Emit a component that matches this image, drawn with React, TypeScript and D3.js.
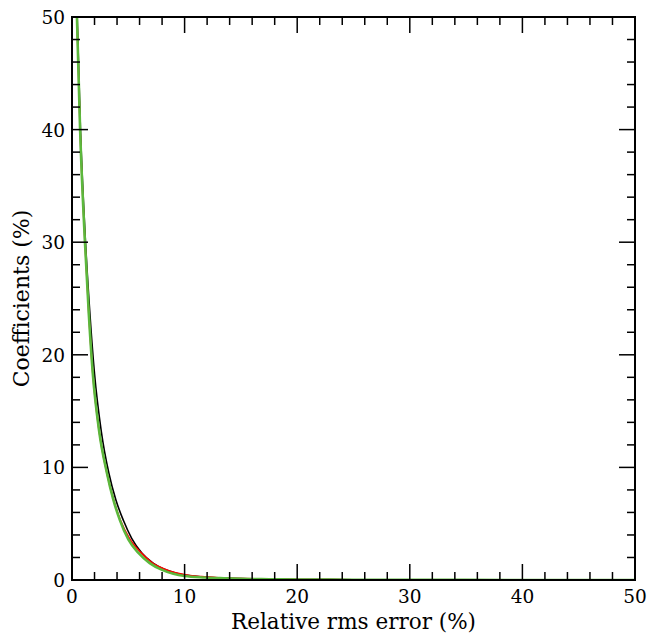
import React from "react";
import * as d3 from "d3";

const xTicksMajor = [0, 10, 20, 30, 40, 50];
const yTicksMajor = [0, 10, 20, 30, 40, 50];
const minorStep = 2;

const blackX = [0, 0.2, 0.46, 0.75, 1.2, 1.6, 2.0, 2.6, 3.27, 3.9, 4.56, 5.3, 6.2, 7.2, 8.2, 9.2, 10.2, 11.5, 13, 15, 17.5, 20, 25, 30, 40, 50];
const blackY = [72, 60, 50, 40, 30, 23.5, 18.3, 13.2, 9.5, 7.1, 5.3, 3.7, 2.4, 1.5, 0.95, 0.62, 0.42, 0.28, 0.19, 0.12, 0.08, 0.05, 0.025, 0.012, 0.004, 0];

const redX = [0, 0.2, 0.44, 0.72, 1.15, 1.5, 1.85, 2.4, 3.1, 3.7, 4.3, 5.1, 6.1, 7.1, 8.2, 9.2, 10.2, 11.5, 13, 15, 17.5, 20, 25, 30, 40, 50];
const redY = [72, 59, 50, 40, 30, 23.5, 18.3, 13.3, 9.5, 7.1, 5.3, 3.7, 2.45, 1.55, 0.98, 0.65, 0.45, 0.3, 0.2, 0.13, 0.08, 0.05, 0.025, 0.012, 0.004, 0];

const greenX = [0, 0.2, 0.44, 0.72, 1.15, 1.5, 1.85, 2.4, 3.1, 3.65, 4.26, 5.0, 5.9, 6.9, 8.0, 9.0, 10.0, 11.8, 13.5, 15, 17.5, 20, 25, 30, 40, 50];
const greenY = [72, 59, 50, 40, 30, 23.5, 18.3, 13.3, 9.5, 7.2, 5.3, 3.6, 2.4, 1.5, 0.9, 0.55, 0.35, 0.22, 0.15, 0.1, 0.07, 0.05, 0.025, 0.012, 0.004, 0];

const seriesColors = ["#000000", "#ff0000", "#5cb83c"];
const seriesWidths = [1.6, 1.6, 2.6];

export default function App() {
  const W = 648, H = 635;
  const left = 72, right = 635, top = 17, bottom = 580;
  const x = d3.scaleLinear().domain([0, 50]).range([left, right]);
  const y = d3.scaleLinear().domain([0, 50]).range([bottom, top]);
  const minors = d3.range(0, 50 + 0.001, minorStep).filter((v) => v % 10 !== 0);

  const series = [
    { xs: blackX, ys: blackY },
    { xs: redX, ys: redY },
    { xs: greenX, ys: greenY },
  ];
  const line = d3
    .line<[number, number]>()
    .x((d) => x(d[0]))
    .y((d) => y(d[1]))
    .curve(d3.curveMonotoneX);

  const font = "'DejaVu Serif', serif";
  const majorLen = 16, minorLen = 8;

  return (
    <svg width={W} height={H} style={{ position: "absolute", left: 0, top: 0 }}>
      <rect width={W} height={H} fill="#fff" />
      <defs>
        <clipPath id="plotClip">
          <rect x={left} y={top} width={right - left} height={bottom - top} />
        </clipPath>
      </defs>
      <g clipPath="url(#plotClip)">
        {series.map((s, i) => (
          <path
            key={i}
            d={line(s.xs.map((v, j) => [v, s.ys[j]] as [number, number])) || ""}
            fill="none"
            stroke={seriesColors[i]}
            strokeWidth={seriesWidths[i]}
          />
        ))}
      </g>
      <g stroke="#000" strokeWidth={1.5}>
        {xTicksMajor.map((v) => (
          <g key={"xm" + v}>
            <line x1={x(v)} x2={x(v)} y1={bottom} y2={bottom - majorLen} />
            <line x1={x(v)} x2={x(v)} y1={top} y2={top + majorLen} />
          </g>
        ))}
        {minors.map((v) => (
          <g key={"xn" + v}>
            <line x1={x(v)} x2={x(v)} y1={bottom} y2={bottom - minorLen} />
            <line x1={x(v)} x2={x(v)} y1={top} y2={top + minorLen} />
          </g>
        ))}
        {yTicksMajor.map((v) => (
          <g key={"ym" + v}>
            <line x1={left} x2={left + majorLen} y1={y(v)} y2={y(v)} />
            <line x1={right} x2={right - majorLen} y1={y(v)} y2={y(v)} />
          </g>
        ))}
        {minors.map((v) => (
          <g key={"yn" + v}>
            <line x1={left} x2={left + minorLen} y1={y(v)} y2={y(v)} />
            <line x1={right} x2={right - minorLen} y1={y(v)} y2={y(v)} />
          </g>
        ))}
      </g>
      <rect x={left} y={top} width={right - left} height={bottom - top} fill="none" stroke="#000" strokeWidth={2} />
      <g style={{ fontFamily: font }} fontSize={18.5} fill="#000">
        {xTicksMajor.map((v) => (
          <text key={"xl" + v} x={x(v)} y={bottom + 23} textAnchor="middle">
            {v}
          </text>
        ))}
        {yTicksMajor.map((v) => (
          <text key={"yl" + v} x={left - 7} y={y(v) + 7} textAnchor="end">
            {v}
          </text>
        ))}
      </g>
      <text x={(left + right) / 2} y={629} textAnchor="middle" style={{ fontFamily: font }} fontSize={21.5}>
        Relative rms error (%)
      </text>
      <text
        transform={`translate(29, ${(top + bottom) / 2}) rotate(-90)`}
        textAnchor="middle"
        style={{ fontFamily: font }}
        fontSize={22}
      >
        Coefficients (%)
      </text>
    </svg>
  );
}
